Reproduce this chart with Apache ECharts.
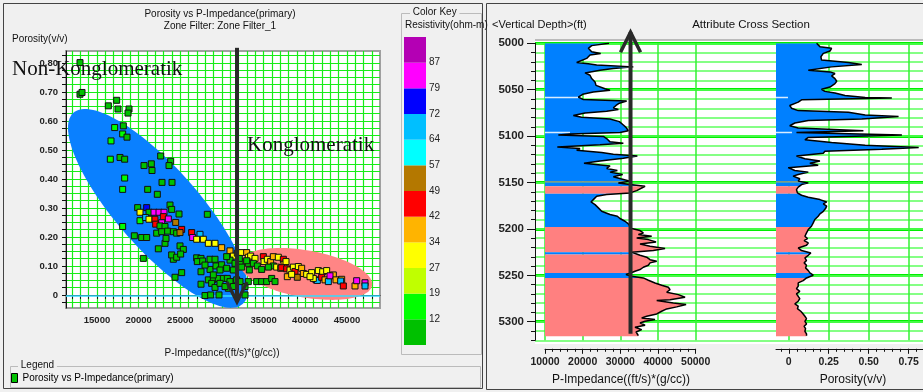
<!DOCTYPE html>
<html><head><meta charset="utf-8">
<script src="https://cdn.jsdelivr.net/npm/echarts@6/dist/echarts.min.js"></script>
<style>html,body{margin:0;padding:0;background:#f0f0f0;}#c{width:923px;height:392px;}</style>
</head><body><div id="c"></div>
<script>
// ---------- Crossplot data (P-Impedance, Porosity, Resistivity) ----------
const impedance = [12960,12960,13200,16360,17360,17520,18840,18720,17120,18160,18080,18600,16680,16600,17760,18320,22640,23840,23640,20640,21520,21600,18320,22800,24000,18080,21080,22240,
18080,19480,20360,20960,20560,19880,20960,20160,21240,21840,22440,23040,20160,20840,21240,21960,22960,23560,22760,22040,22560,23160,23760,23960,24840,24440,28240,
22160,22760,23480,24160,24560,25160,24960,26360,26480,27360,23160,23280,24960,25360,22360,24160,23960,24560,25040,25160,24360,
26960,27760,28360,29160,29960,26960,27480,27040,27680,28560,27480,28560,29160,29280,29960,30560,30960,31360,31840,32360,32960,33160,
28360,28960,29560,28760,29160,27480,27960,28640,29640,30160,30640,30960,30760,32760,32760,33160,30960,31560,32160,32360,33160,33280,31360,29760,31760,32160,31360,
33440,33960,33760,34240,34760,34960,35040,35440,35840,36160,36760,37360,36160,35560,34160,34760,35360,35960,36360,
36560,37040,37440,37680,37160,37760,38160,38560,38760,39160,39560,39040,37840,38360,39760,40160,40760,41560,42080,42560,
41280,41440,41960,42360,42760,43360,42960,43680,44360,44240,44560,45960,46160,47160,47160,40960,40560,30560,32080,32960,27960,28960,29760,30360];
const porosity = [0.801,0.692,0.698,0.652,0.671,0.641,0.641,0.627,0.577,0.583,0.555,0.544,0.531,0.468,0.474,0.468,0.479,0.461,0.446,0.446,0.452,0.429,0.403,0.388,0.388,0.364,0.364,0.347,
0.236,0.204,0.198,0.198,0.126,0.301,0.301,0.285,0.285,0.285,0.285,0.285,0.256,0.267,0.261,0.261,0.270,0.262,0.249,0.244,0.238,0.236,0.310,0.295,0.279,0.250,0.278,
0.213,0.218,0.220,0.218,0.213,0.226,0.215,0.215,0.198,0.209,0.178,0.195,0.169,0.157,0.159,0.123,0.138,0.130,0.141,0.077,0.061,
0.192,0.192,0.178,0.178,0.163,0.128,0.126,0.115,0.117,0.123,0.080,0.088,0.123,0.100,0.104,0.092,0.152,0.134,0.144,0.146,0.146,0.130,
0.052,0.054,0.057,0.040,0.026,0.037,-0.002,0.000,0.000,0.057,0.057,0.046,0.023,0.000,0.029,0.046,0.120,0.109,0.115,0.096,0.109,0.086,0.086,0.086,0.052,0.046,0.029,
0.134,0.126,0.109,0.100,0.088,0.132,0.115,0.123,0.115,0.132,0.130,0.123,0.100,0.096,0.046,0.046,0.046,0.057,0.046,
0.096,0.092,0.106,0.115,0.094,0.090,0.086,0.096,0.081,0.098,0.092,0.061,0.063,0.071,0.074,0.071,0.077,0.084,0.080,0.084,
0.052,0.050,0.061,0.052,0.046,0.069,0.066,0.052,0.054,0.048,0.031,0.031,0.049,0.042,0.031,0.057,0.063,0.132,0.126,0.118,0.103,0.069,0.040,0.029];
const resistivity = [8,8,8,8,8,8,8,8,15,8,15,8,15,15,8,8,8,8,8,8,8,8,15,8,8,15,8,8,
15,8,8,8,8,8,75,30,8,83,83,83,15,68,30,45,45,83,83,45,8,8,8,8,8,53,8,
8,8,8,8,8,45,53,45,83,68,8,8,8,8,8,8,8,8,8,8,8,
30,30,30,30,38,8,8,8,8,8,8,8,8,8,8,8,38,30,38,30,38,30,
8,8,8,8,8,8,8,8,8,8,8,8,8,8,8,8,8,8,8,8,8,8,8,8,8,8,8,
30,30,8,8,8,45,30,30,38,38,30,45,8,8,8,8,8,8,8,
30,30,38,30,45,45,30,30,45,30,38,53,38,30,38,30,30,30,30,30,
75,68,45,38,68,38,83,38,38,68,45,38,83,83,68,30,30,8,8,8,8,8,8,8];

// ---------- Color key ----------
const keyColors = ['#00c000','#00ff00','#c0ff00','#ffff00','#ffb400','#ff0000','#b47800','#00ffff','#00bfff','#0000ff','#ff00ff','#b400b4']; // bottom to top
const keyLabels = ['12','19','27','34','42','49','57','64','72','79','87'];
const keyBreaks = [12,19,27,34,42,49,57,64,72,79,87];

// ---------- Ellipses (centre, half major axis, half minor axis, in data units) ----------
const ellipseCenter = [[22320,0.2983],[40080,0.0724]];
const ellipseMajor = [[10152,-0.3297],[7920,-0.040]];
const ellipseMinor = [[3684,0.0938],[-492,-0.080]];
const zeroLine = [[11280,-0.004],[48960,-0.004]];
const arrowCross = {x:31800, tail:0.852, tip:-0.024};

// ---------- Scatter axes ticks ----------
const xLabelVals = [15000,20000,25000,30000,35000,40000,45000];
const yLabelVals = [0,0.1,0.2,0.3,0.4,0.5,0.6,0.7,0.8];

// ---------- Well log (Attribute Cross Section) ----------
const depth1 = [5000,5002.5,5005.4,5009.1,5010.9,5012.7,5016.3,5020.7,5022.1,5023.5,5025.4,5027.2,5029,5031.9,5034.4,5038,5041.7,5045.3,5048.9,5050.7,5052.5,5055,5058,5060.5,5062.3,5064.5,5067,5069.6,5071.4,5073.2,5075,5077.9,5079.7,5081.5,5084.4,5088,5090.6,5094.2,5096,5097.8,5098.9,5100.4,5103.3,5106.2,5107.6,5109.4,5111.6,5113.4,5115.2,5117.7,5119.6,5121.4,5123.9,5126.8,5129.3,5132.2,5134.8,5137,5138.8,5141.3,5143.8,5146,5148.5,
5150.4,5152.2,5154,5155.8,5158.7,5161.2,5163,5164.8,5168.4,5170.9,5173.8,5177.3,5181,5184.5,5186.3,5188.8,5191.7,5194.6,5197.1,5199.6,5201.8,5204.3,5206.1,5207.9,5209.7,5211.5,5214,5216.2,5218.7,5221.2,5223.3,5225.1,5226.6,5228.4,5230.5,5233.1,5234.8,5236.6,5239.1,5241.3,5243.8,5245.6,5247.8,5249.2,5251,5252.8,5255.3,5258.2,5260.7,5262.9,5265.4,5268.2,5270.8,5273.6,5276.2,5277.2,5279.7,5281.5,5284,5286.2,5288.7,5291.6,5294.1,5295.9,5297.7,5299.5,5301.3,5303.8,5306,5308.5,5311,5313.2,5315];
const pimp = [27000,22390,21500,22390,24780,21950,21060,18410,21500,23720,33450,28140,24600,20620,21950,22390,23280,23540,25930,27260,22830,20000,18850,20180,31680,29730,28850,28140,29470,26370,20620,17520,19730,27260,29730,30800,31500,32120,29900,16640,13540,25490,26550,27260,30800,24600,13270,19290,18410,25040,28140,34510,30800,24600,20350,27260,26370,29200,27260,30620,28140,30090,32570,
29470,32570,36550,36100,34340,32570,26370,23720,22830,22210,23280,24160,25040,27260,29200,29900,31240,32120,32570,33010,35220,36100,34780,38320,34340,37430,39470,35220,37880,41860,38760,33010,32570,35220,36990,37880,39650,37880,37430,36100,35220,33890,32570,31500,33010,36100,37430,39200,40970,42740,43190,42300,45400,47170,43190,39650,44070,47440,44960,42300,40970,39650,36990,35660,39200,36550,35220,36550,33890,35660,34160,34510,34780];
const depth2 = [5000,5003.6,5005.4,5008.3,5010.9,5014.5,5018.1,5020.7,5022.8,5025.4,5029,5030.8,5032.6,5035.1,5038,5040.9,5043.5,5047.1,5049.6,5051.8,5053.6,5056.2,5058.3,5059,5060.9,5063.4,5067,5069.9,5072.5,5074.3,5077.2,5079,5081.5,5083.3,5085.9,5088.8,5091.3,5094.2,5096,5098.9,5101.4,5104,5106.9,5109.8,5112.3,5114.1,5116.3,5118.5,5121.4,5124.3,5126.8,5129.3,5131.5,5134,5137,5138.8,5141.3,5143.1,5146,5148.5,
5150.4,5152.2,5155,5157.6,5161.2,5163.7,5165.8,5168.4,5170.9,5173,5175.5,5178.1,5181,5183.8,5186.3,5189.9,5193.5,5197.1,5200.7,5204.3,5207.9,5210.4,5212.6,5215.1,5217.6,5220.5,5223.3,5225.9,5228.4,5231.2,5234.1,5236.6,5239.1,5242,5244.9,5247.4,5249.9,5252.8,5255.7,5258.2,5261.8,5264.3,5267.2,5270,5272.6,5275.1,5277.9,5280.8,5283.3,5285.9,5288.7,5291.6,5294.1,5296.6,5299.5,5302.4,5304.9,5307.4,5310.3,5313.2,5315];
const poro = [0.174,0.195,0.268,0.258,0.216,0.201,0.205,0.373,0.457,0.268,0.122,0.258,0.289,0.268,0.289,0.300,0.289,0.258,0.205,0.226,0.289,0.352,0.478,0.645,0.080,0.059,0.006,0.017,0.059,0.373,0.478,0.687,0.457,0.122,0.038,0.006,0.059,0.467,0.048,0.708,0.122,0.101,0.268,0.478,0.813,0.582,0.226,0.216,0.048,0.101,0.195,0.132,0.184,-0.004,0.038,0.122,0.059,0.027,0.069,0.059,
0.122,0.080,0.059,0.048,0.054,0.080,0.122,0.195,0.237,0.216,0.237,0.230,0.216,0.195,0.184,0.163,0.153,0.142,0.122,0.111,0.101,0.117,0.096,0.122,0.111,0.059,0.080,0.138,0.122,0.101,0.111,0.096,0.111,0.105,0.122,0.132,0.153,0.111,0.090,0.059,0.059,0.048,0.069,0.048,0.059,0.069,0.059,0.038,0.059,0.054,0.075,0.090,0.101,0.111,0.101,0.111,0.096,0.105,0.101,0.111,0.111];
// zones: N = Non-Konglomeratik (blue), K = Konglomeratik (pink)
const zoneTop    = [5000,5148.8,5150,5154,5162,5198,5225,5227.6,5247.5,5253];
const zoneBottom = [5148.8,5150,5154,5162,5198,5225,5227.6,5247.5,5253,5315.7];
const zoneKind   = ['N','K','N','K','N','K','N','K','N','K'];
const markDepth = [5058.3,5096];
const mark1End = [18850,16640];
const mark2End = [-0.005,0.02];
const arrowLog = {x:32700, tail:5313, tip:4988};
const pimpLabelVals = [10000,20000,30000,40000,50000];
const poroLabelVals = [0,0.25,0.5,0.75];
const poroGridVals = [0.25,0.5,0.75];
const poroMinorVals = [-0.05,0,0.05,0.1,0.15,0.2,0.25,0.3,0.35,0.4,0.45,0.5,0.55,0.6,0.65,0.7,0.75,0.8];
const depthLabelVals = [5000,5050,5100,5150,5200,5250,5300];

// ---------- helpers ----------
function range(a,b,s){const r=[];for(let v=a;v<=b+1e-9;v+=s)r.push(Math.round(v*1e6)/1e6);return r;}
function interp(ds,vs,d){
  if(d<=ds[0])return vs[0];
  for(let k=1;k<ds.length;k++){if(d<=ds[k]){const f=(d-ds[k-1])/(ds[k]-ds[k-1]);return vs[k-1]+f*(vs[k]-vs[k-1]);}}
  return vs[vs.length-1];
}
const FONT='Liberation Sans';
const GREEN='#18ec18';
const plain=v=>String(v);

function ellipseItem(params,api){
  const i=params.dataIndex,c=ellipseCenter[i],u=ellipseMajor[i],v=ellipseMinor[i];
  const pts=[];
  for(let k=0;k<120;k++){const t=k/120*Math.PI*2;
    pts.push(api.coord([c[0]+u[0]*Math.cos(t)+v[0]*Math.sin(t),c[1]+u[1]*Math.cos(t)+v[1]*Math.sin(t)]));}
  return {type:'polygon',shape:{points:pts},style:{fill:i===0?'#0a80ff':'#ff8585',stroke:null}};
}
function arrowItem(spec){
  return function(params,api){
    const a=api.coord([spec.x,spec.tail]),b=api.coord([spec.x,spec.tip]);
    const s=a[1]>b[1]?20:-20;
    return {type:'group',children:[
      {type:'line',shape:{x1:a[0],y1:a[1],x2:b[0],y2:b[1]},style:{stroke:'#2a2a2a',lineWidth:4}},
      {type:'polyline',shape:{points:[[b[0]-10,b[1]+s],[b[0],b[1]],[b[0]+10,b[1]+s]]},style:{stroke:'#2a2a2a',lineWidth:3.5,fill:null,lineJoin:'miter'}}
    ]};
  };
}
function zoneItem(ds,vs,base){
  return function(params,api){
    const i=params.dataIndex,top=zoneTop[i],bot=zoneBottom[i];
    const pts=[[base,top],[interp(ds,vs,top),top]];
    for(let k=0;k<ds.length;k++)if(ds[k]>top&&ds[k]<bot)pts.push([vs[k],ds[k]]);
    pts.push([interp(ds,vs,bot),bot]);pts.push([base,bot]);
    return {type:'polygon',shape:{points:pts.map(p=>api.coord(p))},style:{fill:zoneKind[i]==='K'?'#ff8080':'#0080ff',stroke:null}};
  };
}
function markItem(base,ends){
  return function(params,api){
    const i=params.dataIndex;const a=api.coord([base,markDepth[i]]),b=api.coord([ends[i],markDepth[i]]);
    return {type:'line',shape:{x1:a[0],y1:a[1],x2:b[0],y2:b[1]},style:{stroke:'rgba(255,255,255,0.85)',lineWidth:1.5}};
  };
}

const scatterData=impedance.map((x,i)=>[x,porosity[i],resistivity[i]]);
const pieces=[];
for(let i=0;i<keyColors.length;i++){
  const p={color:keyColors[i]};
  if(i>0)p.gte=keyBreaks[i-1];
  if(i<keyBreaks.length)p.lt=keyBreaks[i];
  pieces.push(p);
}
const boldLbl={fontFamily:FONT,fontWeight:'bold',fontSize:9.5,color:'#222'};
const hiddenX=(g,mn,mx)=>({gridIndex:g,type:'value',min:mn,max:mx,show:false,splitLine:{show:false},axisLine:{show:false},axisTick:{show:false},axisLabel:{show:false}});

const option={
  animation:false,
  backgroundColor:'#f0f0f0',
  grid:[
    {left:66,top:51,width:314,height:257,show:true,backgroundColor:'#fff',borderColor:'#a0a0a0',borderWidth:2},
    {left:404,top:37,width:22,height:308},
    {left:535,top:43.3,width:388,height:297},
    {left:545,top:43.3,width:150.7,height:297},
    {left:776,top:43.3,width:147,height:297}
  ],
  xAxis:[
    {gridIndex:0,type:'value',min:11280,max:48960,
      axisLine:{lineStyle:{color:'#111',width:1}},
      axisTick:{customValues:range(12000,48000,1000),length:4,lineStyle:{color:'#111'}},
      axisLabel:Object.assign({customValues:xLabelVals,margin:7,formatter:plain},boldLbl),
      splitLine:{show:true,lineStyle:{color:GREEN,width:1.2}}},
    hiddenX(1,0,1),
    hiddenX(2,0,1),
    {gridIndex:3,type:'value',min:10000,max:50000,interval:10000,offset:8.5,position:'bottom',
      axisLine:{lineStyle:{color:'#111'}},
      axisTick:{length:5,lineStyle:{color:'#111'}},
      minorTick:{show:true,splitNumber:5,length:3,lineStyle:{color:'#111'}},
      axisLabel:{margin:8,fontFamily:FONT,fontWeight:'bold',fontSize:10.5,color:'#222',formatter:plain},
      splitLine:{show:true,lineStyle:{color:'#33f033',width:1.5}}},
    {gridIndex:4,type:'value',min:-0.08,max:0.84,offset:8.5,position:'bottom',
      axisLine:{lineStyle:{color:'#111'}},
      axisTick:{customValues:poroLabelVals,length:5,lineStyle:{color:'#111'}},
      axisLabel:{customValues:poroLabelVals,margin:8,fontFamily:FONT,fontWeight:'bold',fontSize:10.5,color:'#222',
        formatter:v=>v===0?'0':v.toFixed(2)},
      splitLine:{show:true,lineStyle:{color:'#33f033',width:1.5}}},
    {gridIndex:4,type:'value',min:-0.08,max:0.84,offset:8.5,position:'bottom',
      axisLine:{show:false},
      axisTick:{customValues:poroMinorVals,length:3,lineStyle:{color:'#111'}},
      axisLabel:{show:false},splitLine:{show:false}}
  ],
  yAxis:[
    {gridIndex:0,type:'value',min:-0.045,max:0.841,
      axisLine:{lineStyle:{color:'#111',width:1}},
      axisTick:{customValues:range(-0.025,0.825,0.025),length:4,lineStyle:{color:'#111'}},
      axisLabel:Object.assign({customValues:yLabelVals,margin:8,formatter:v=>v===0?'0':v.toFixed(2)},boldLbl),
      splitLine:{show:true,lineStyle:{color:GREEN,width:1.2}}},
    {gridIndex:1,type:'category',data:keyColors.map((c,i)=>'k'+i),show:false},
    {gridIndex:1,type:'value',min:0,max:12,position:'right',
      axisLine:{show:false},axisTick:{show:false},splitLine:{show:false},
      axisLabel:{customValues:[1,2,3,4,5,6,7,8,9,10,11],formatter:v=>keyLabels[v-1],margin:3,
        fontFamily:FONT,fontSize:10,color:'#222'}},
    {gridIndex:2,type:'value',inverse:true,min:5000,max:5320,position:'left',
      axisLine:{show:true,lineStyle:{color:'#111'}},
      axisTick:{customValues:depthLabelVals,length:8,lineStyle:{color:'#111'}},
      axisLabel:{customValues:depthLabelVals,margin:11,fontFamily:FONT,fontWeight:'bold',fontSize:11.5,color:'#222',formatter:plain},
      splitLine:{show:true,lineStyle:{color:'#00ee00',width:3}}},
    {gridIndex:2,type:'value',inverse:true,min:5000,max:5320,interval:10,position:'left',
      axisLine:{show:false},
      axisTick:{length:4,lineStyle:{color:'#111'}},
      axisLabel:{show:false},
      splitLine:{show:true,lineStyle:{color:'#5cff5c',width:1.5}}},
    {gridIndex:3,type:'value',inverse:true,min:5000,max:5320,show:false,splitLine:{show:false}},
    {gridIndex:4,type:'value',inverse:true,min:5000,max:5320,show:false,splitLine:{show:false}}
  ],
  visualMap:{type:'piecewise',show:false,dimension:2,seriesIndex:2,pieces:pieces},
  legend:{left:11,top:373,itemWidth:6,itemHeight:9,icon:'rect',selectedMode:false,padding:0,
    textStyle:{fontFamily:FONT,fontSize:10,color:'#000'},
    data:[{name:'Porosity vs P-Impedance(primary)',itemStyle:{color:'#00c000',borderColor:'#000',borderWidth:1}}]},
  series:[
    {type:'custom',name:'ellipses',xAxisIndex:0,yAxisIndex:0,data:ellipseCenter,renderItem:ellipseItem,clip:true,z:1,silent:true},
    {type:'line',name:'zero',xAxisIndex:0,yAxisIndex:0,data:zeroLine,showSymbol:false,lineStyle:{color:'#33ddff',width:1.5},z:1},
    {type:'scatter',name:'Porosity vs P-Impedance(primary)',xAxisIndex:0,yAxisIndex:0,data:scatterData,
      symbol:'rect',symbolSize:6,itemStyle:{borderColor:'#111',borderWidth:1,opacity:1},z:3},
    {type:'custom',name:'arrow1',xAxisIndex:0,yAxisIndex:0,data:[[arrowCross.x,arrowCross.tip]],renderItem:arrowItem(arrowCross),clip:false,z:5},
    {type:'bar',name:'key',xAxisIndex:1,yAxisIndex:1,barCategoryGap:0,
      data:keyColors.map(c=>({value:1,itemStyle:{color:c}})),silent:true},
    {type:'custom',name:'zones1',xAxisIndex:3,yAxisIndex:5,data:zoneTop.map((t,i)=>[10000,t]),renderItem:zoneItem(depth1,pimp,10000),clip:true,z:2},
    {type:'custom',name:'marks1',xAxisIndex:3,yAxisIndex:5,data:markDepth.map(d=>[10000,d]),renderItem:markItem(10000,mark1End),clip:true,z:3},
    {type:'line',name:'pimp',xAxisIndex:3,yAxisIndex:5,data:depth1.map((d,i)=>[pimp[i],d]),showSymbol:false,
      lineStyle:{color:'#000',width:1.5},z:4},
    {type:'custom',name:'arrow2',xAxisIndex:3,yAxisIndex:5,data:[[arrowLog.x,arrowLog.tip]],renderItem:arrowItem(arrowLog),clip:false,z:5},
    {type:'custom',name:'zones2',xAxisIndex:4,yAxisIndex:6,data:zoneTop.map((t,i)=>[-0.08,t]),renderItem:zoneItem(depth2,poro,-0.08),clip:true,z:2},
    {type:'custom',name:'marks2',xAxisIndex:4,yAxisIndex:6,data:markDepth.map(d=>[-0.08,d]),renderItem:markItem(-0.08,mark2End),clip:true,z:3},
    {type:'line',name:'poro',xAxisIndex:4,yAxisIndex:6,data:depth2.map((d,i)=>[poro[i],d]),showSymbol:false,
      lineStyle:{color:'#000',width:1.5},z:4}
  ],
  graphic:[
    {type:'rect',z:-10,shape:{x:535,y:40,width:388,height:304},style:{fill:'#fff'}},
    {type:'line',z:-9,shape:{x1:535,y1:40,x2:923,y2:40},style:{stroke:'#a8a8a8',lineWidth:1.5}},
    {type:'rect',z:-5,shape:{x:3.5,y:3.5,width:479,height:385},style:{fill:'none',stroke:'#444',lineWidth:1}},
    {type:'rect',z:-5,shape:{x:486.5,y:3.5,width:440,height:386},style:{fill:'none',stroke:'#444',lineWidth:1}},
    {type:'rect',z:-5,shape:{x:401.5,y:13.5,width:80,height:341},style:{fill:'none',stroke:'#bbb',lineWidth:1}},
    {type:'rect',z:-5,shape:{x:10.5,y:366.5,width:470,height:21},style:{fill:'none',stroke:'#bbb',lineWidth:1}},
    {type:'text',z:10,left:410,top:7,style:{text:' Color Key ',font:'10px '+FONT,fill:'#111',backgroundColor:'#f0f0f0'}},
    {type:'text',z:10,left:405,top:20,style:{text:'Resistivity(ohm-m)',font:'10px '+FONT,fill:'#111'}},
    {type:'text',z:10,left:18,top:360,style:{text:' Legend ',font:'10px '+FONT,fill:'#111',backgroundColor:'#f0f0f0'}},
    {type:'text',z:10,x:220,y:14,style:{text:'Porosity vs P-Impedance(primary)',font:'10px '+FONT,fill:'#111',align:'center',verticalAlign:'middle'}},
    {type:'text',z:10,x:220,y:26,style:{text:'Zone Filter: Zone Filter_1',font:'10px '+FONT,fill:'#111',align:'center',verticalAlign:'middle'}},
    {type:'text',z:10,x:12,y:39,style:{text:'Porosity(v/v)',font:'10px '+FONT,fill:'#111',verticalAlign:'middle'}},
    {type:'text',z:10,x:222,y:353,style:{text:'P-Impedance((ft/s)*(g/cc))',font:'10px '+FONT,fill:'#111',align:'center',verticalAlign:'middle'}},
    {type:'text',z:20,x:12,y:69,style:{text:'Non-Konglomeratik',font:'21px "Liberation Serif"',fill:'#111',verticalAlign:'middle'}},
    {type:'text',z:20,x:247,y:145,style:{text:'Konglomeratik',font:'21px "Liberation Serif"',fill:'#111',verticalAlign:'middle'}},
    {type:'text',z:10,x:492,y:25,style:{text:'<Vertical Depth>(ft)',font:'11px '+FONT,fill:'#111',verticalAlign:'middle'}},
    {type:'text',z:10,x:751,y:25,style:{text:'Attribute Cross Section',font:'11.5px '+FONT,fill:'#111',align:'center',verticalAlign:'middle'}},
    {type:'text',z:10,x:621,y:380,style:{text:'P-Impedance((ft/s)*(g/cc))',font:'12px '+FONT,fill:'#111',align:'center',verticalAlign:'middle'}},
    {type:'text',z:10,x:853,y:380,style:{text:'Porosity(v/v)',font:'12px '+FONT,fill:'#111',align:'center',verticalAlign:'middle'}}
  ]
};
const chart=echarts.init(document.getElementById('c'));
chart.setOption(option);
</script></body></html>
